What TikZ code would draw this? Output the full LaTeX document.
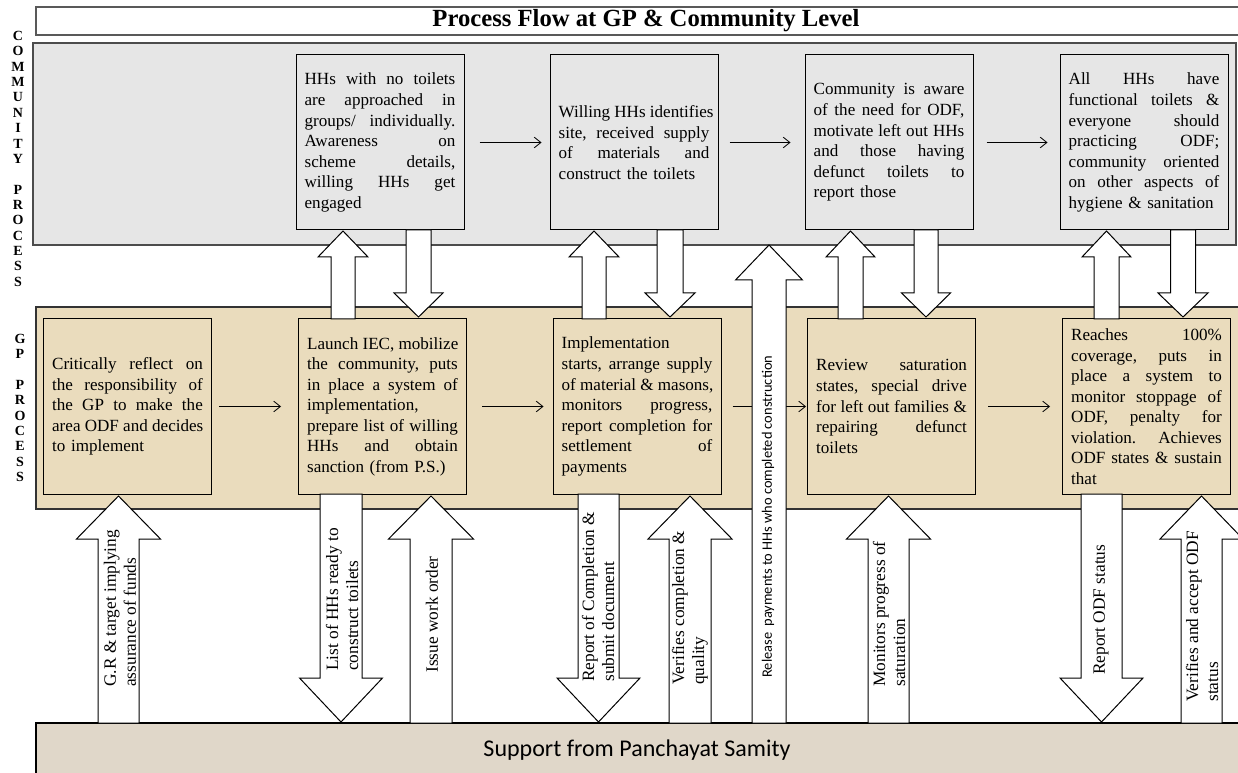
\documentclass[tikz,border=0pt]{standalone}
\usepackage{fontspec}
\setmainfont{Liberation Serif}
\newfontfamily\calib{Carlito}
\usetikzlibrary{arrows.meta}
\definecolor{commbg}{HTML}{E6E6E6}
\definecolor{gpbg}{HTML}{EADCBD}
\definecolor{psbg}{HTML}{E0D7C9}
\newcommand\J[1]{{\frenchspacing\spaceskip=0.25em plus 1fil\relax\xspaceskip=0.25em plus 1fil\relax\makebox[113pt][s]{#1}}}
% center x, half shaft, half head, tip y, head base y, start y
\newcommand\BlkArr[6]{\draw[blkarrow] (#1-#2,#6) -- (#1-#2,#5) -- (#1-#3,#5) -- (#1,#4) -- (#1+#3,#5) -- (#1+#2,#5) -- (#1+#2,#6) -- cycle;}
\tikzset{
  band/.style={line width=0.9pt},
  procbox/.style={draw=black, line width=0.75pt, minimum width=126pt, minimum height=131.25pt,
    text width=113pt, inner xsep=6.5pt, inner ysep=0pt, align=left,
    font=\fontsize{12.8}{15.4}\selectfont},
  flow/.style={line width=0.6pt, -{Straight Barb[length=5pt,width=8pt]}},
  blkarrow/.style={draw=black, fill=white, line width=0.75pt, line join=miter},
  arrlabel/.style={rotate=90, anchor=west, align=left, inner sep=0pt,
    font=\fontsize{13}{15}\selectfont},
  vlet/.style={inner sep=0pt, font=\bfseries\fontsize{10.5}{12}\selectfont},
}
\begin{document}
\begin{tikzpicture}[x=0.75pt,y=-0.75pt]
\useasboundingbox (0,0) rectangle (1238,773);
\fill[white] (0,0) rectangle (1238,773);
% bands
\draw[band, draw=gray!70!black, fill=white] (36,7) rectangle (1245,35);
\draw[band, draw=gray!60!black, fill=commbg] (33,43) rectangle (1236,245);
\draw[band, draw=black!80, fill=gpbg] (36,307) rectangle (1245,509);
\draw[band, draw=black, fill=psbg] (36,723) rectangle (1245,780);
\node[font=\bfseries\fontsize{18.5}{22}\selectfont] (title) at (646,21) {Process Flow at GP \& Community Level};
\node[font=\calib\fontsize{18}{22}\selectfont] (ps) at (637,750) {Support from Panchayat Samity};
% side letters
\foreach \l [count=\i] in {C,O,M,M,U,N,I,T,Y,{},P,R,O,C,E,S,S}
  \node[vlet] (cl\i) at (18,{36+(\i-1)*15.35}) {\l};
\foreach \l [count=\i] in {G,P,{},P,R,O,C,E,S,S}
  \node[vlet] (gl\i) at (20,{338.5+(\i-1)*15.4}) {\l};
% community boxes
\node[procbox] (c1) at (380,142.5) {\J{HHs with no toilets}\\\J{are approached in}\\\J{groups/ individually.}\\\J{Awareness on}\\\J{scheme details,}\\\J{willing HHs get}\\engaged};
\node[procbox] (c2) at (634,142.5) {\J{Willing HHs identifies}\\\J{site, received supply}\\\J{of materials and}\\construct the toilets};
\node[procbox] (c3) at (889,142.5) {\J{Community is aware}\\\J{of the need for ODF,}\\\J{motivate left out HHs}\\\J{and those having}\\\J{defunct toilets to}\\report those};
\node[procbox] (c4) at (1144,142.5) {\J{All HHs have}\\\J{functional toilets \&}\\\J{everyone should}\\\J{practicing ODF;}\\\J{community oriented}\\\J{on other aspects of}\\hygiene \& sanitation};
% GP boxes
\node[procbox] (g1) at (127.5,406.5) {\J{Critically reflect on}\\\J{the responsibility of}\\\J{the GP to make the}\\\J{area ODF and decides}\\to implement};
\node[procbox] (g2) at (382.5,406.5) {\J{Launch IEC, mobilize}\\\J{the community, puts}\\\J{in place a system of}\\implementation,\\\J{prepare list of willing}\\\J{HHs and obtain}\\sanction (from P.S.)};
\node[procbox] (g3) at (637,406.5) {Implementation\\\J{starts, arrange supply}\\\J{of material \& masons,}\\\J{monitors progress,}\\\J{report completion for}\\\J{settlement of}\\payments};
\node[procbox] (g4) at (891.5,406.5) {\J{Review saturation}\\\J{states, special drive}\\\J{for left out families \&}\\\J{repairing defunct}\\toilets};
\node[procbox] (g5) at (1146.5,406.5) {\J{Reaches 100\%}\\\J{coverage, puts in}\\\J{place a system to}\\\J{monitor stoppage of}\\\J{ODF, penalty for}\\\J{violation. Achieves}\\\J{ODF states \& sustain}\\that};
% flow arrows
\draw[flow, shorten <=11.25pt, shorten >=6pt] (c1.east) -- (c2.west);
\draw[flow, shorten <=8.25pt, shorten >=10.5pt] (c2.east) -- (c3.west);
\draw[flow, shorten <=9.75pt, shorten >=9pt] (c3.east) -- (c4.west);
\draw[flow, shorten <=5.25pt, shorten >=12.75pt] (g1.east) -- (g2.west);
\draw[flow, shorten <=11.25pt, shorten >=6.75pt] (g2.east) -- (g3.west);
\draw[flow, shorten <=8.25pt, shorten >=0.75pt] (g3.east) -- (g4.west);
\draw[flow, shorten <=9pt, shorten >=9pt] (g4.east) -- (g5.west);
% block arrows between GP and community
\BlkArr{343}{12}{25}{231}{257}{319}
\BlkArr{418.5}{12.5}{24.5}{317}{293}{230}
\BlkArr{594}{12}{25}{231}{257}{319}
\BlkArr{670}{13}{25}{317}{293}{230}
\BlkArr{850.5}{12.5}{24.5}{231}{257}{319}
\BlkArr{926}{12}{24.5}{317}{293}{230}
\BlkArr{1106.5}{12.5}{24.5}{231}{257}{319}
\BlkArr{1183}{12.5}{25}{317}{293}{230}
% block arrows between GP and Panchayat Samity
\BlkArr{118.5}{20.5}{42}{496}{539}{723}
\BlkArr{341}{21}{41.5}{722}{678}{494}
\BlkArr{431}{21}{42.5}{496}{539}{723}
\BlkArr{598.5}{20.5}{41.5}{722}{678}{494}
\BlkArr{690}{21}{42}{496}{539}{723}
\BlkArr{888.5}{20.5}{42}{496}{539}{723}
\BlkArr{1101.5}{20.5}{41.5}{722}{678}{494}
\BlkArr{1201.5}{20.5}{41.5}{496}{539}{723}
\BlkArr{769}{17}{33.5}{245}{280}{723}
% labels
\node[arrlabel] (l1) at (120,687) {G.R \& target implying\\assurance of funds};
\node[arrlabel] (l2) at (342,671) {List of HHs ready to\\construct toilets};
\node[arrlabel] (l3) at (432,673) {Issue work order};
\node[arrlabel] (l4) at (598,682) {Report of Completion \&\\submit document};
\node[arrlabel] (l5) at (690,685) {Verifies completion \&\\quality};
\node[arrlabel] (l7) at (889,687) {Monitors progress of\\saturation};
\node[arrlabel] (l8) at (1101,675) {Report ODF status};
\node[arrlabel] (l9) at (1202,702) {Verifies and accept ODF\\status};
\node[arrlabel, font=\calib\fontsize{10.8}{13}\selectfont] (l6) at (768,678) {Release~ payments to HHs who completed construction};
\end{tikzpicture}
\end{document}
